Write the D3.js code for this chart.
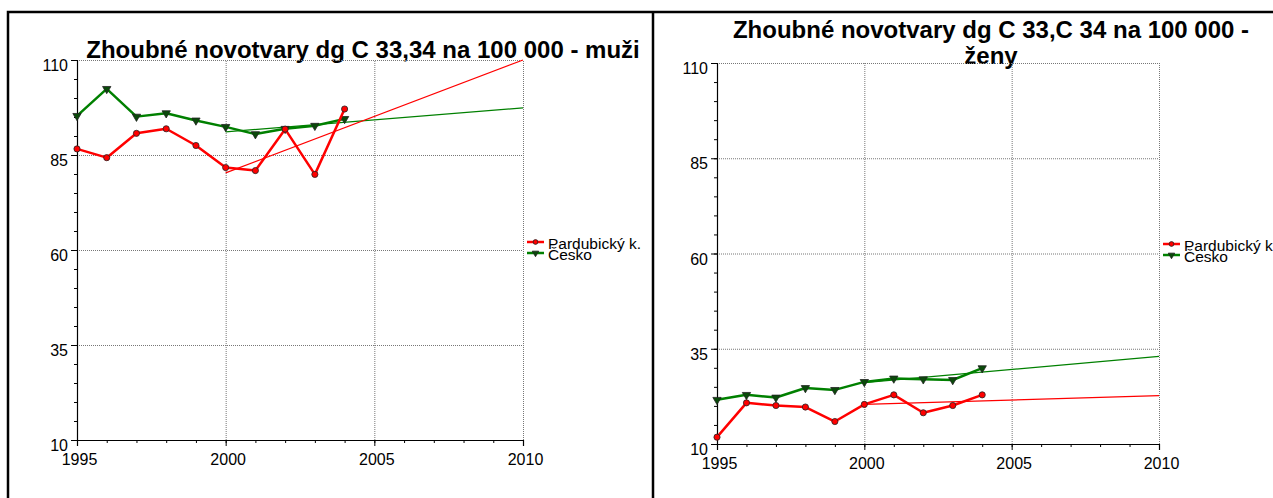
<!DOCTYPE html>
<html>
<head>
<meta charset="utf-8">
<script src="https://cdn.jsdelivr.net/npm/d3@7"></script>
<style>
	body { margin: 0; background: #fff; }
	svg { display: block; font-family: 'Liberation Sans', Arial, sans-serif; }
</style>
</head>
<body>
<div id="chart"></div>
<script>
// Data
const years = [1995, 1996, 1997, 1998, 1999, 2000, 2001, 2002, 2003, 2004];
const muziPardubice = [86.6, 84.3, 90.7, 91.9, 87.5, 81.7, 80.9, 91.8, 79.9, 97.1];
const muziCesko = [95.3, 102.4, 95.1, 96.0, 94.1, 92.4, 90.5, 91.9, 92.7, 94.5];
const zenyPardubice = [11.8, 20.8, 20.1, 19.7, 15.9, 20.4, 22.9, 18.2, 20.1, 22.9];
const zenyCesko = [21.6, 22.9, 22.2, 24.7, 24.2, 26.3, 27.2, 27.0, 26.8, 29.9];

// Trend lines (start / end)
const trendYears = [2000, 2010];
const muziPardubiceTrend = [80.3, 110];
const muziCeskoTrend = [91.1, 97.4];
const zenyPardubiceTrend = [20.4, 22.7];
const zenyCeskoTrend = [26.1, 33.0];

const seriesNames = ['Pardubický k.', 'Česko'];
const yMajorTicks = [10, 35, 60, 85, 110];
const xMajorTicks = [1995, 2000, 2005, 2010];

const width = 1273;
const height = 498;

const svg = d3.select('#chart')
	.append('svg')
	.attr('width', width)
	.attr('height', height)
	.attr('viewBox', [0, 0, width, height]);

// Outer frame
const frame = svg.append('g')
	.attr('fill', 'none')
	.attr('stroke', '#000')
	.attr('stroke-width', 2.5);
frame.append('path').attr('d', 'M8,' + height + 'V12H' + width);
frame.append('path').attr('d', 'M653,12V' + height);

const colors = { red: '#ff0000', green: '#008000' };

function drawPanel(opts) {
	const x = d3.scaleLinear().domain([1995, 2010]).range([opts.left, opts.right]);
	const y = d3.scaleLinear().domain([10, 110]).range([opts.bottom, opts.top]);

	const g = svg.append('g');

	// Title
	const title = g.append('text')
		.attr('text-anchor', 'middle')
		.style('font-weight', 'bold')
		.style('font-size', '24px');
	opts.title.forEach((line, i) => {
		title.append('tspan')
			.attr('x', opts.titleX)
			.attr('y', opts.titleY + i * 26)
			.text(line);
	});

	// Gridlines
	const grid = g.append('g');
	grid.append('g')
		.attr('transform', 'translate(' + opts.left + ',0)')
		.call(d3.axisLeft(y).tickValues(yMajorTicks.slice(1)).tickSize(-(opts.right - opts.left)).tickFormat(''))
		.call((s) => s.select('.domain').remove());
	grid.append('g')
		.attr('transform', 'translate(0,' + opts.bottom + ')')
		.call(d3.axisBottom(x).tickValues(xMajorTicks.slice(1)).tickSize(-(opts.bottom - opts.top)).tickFormat(''))
		.call((s) => s.select('.domain').remove());
	grid.selectAll('line')
		.attr('stroke', '#777')
		.attr('stroke-dasharray', '1,1');

	// Axes
	const yAxis = g.append('g')
		.attr('transform', 'translate(' + opts.left + ',0)');
	yAxis.append('g')
		.call(d3.axisLeft(y).tickValues(d3.range(10, 111, 5)).tickSize(3).tickFormat(''))
		.call((s) => s.select('.domain').remove());
	yAxis.append('g')
		.call(d3.axisLeft(y).tickValues(yMajorTicks).tickSize(6).tickPadding(3).tickFormat(d3.format('d')));
	yAxis.selectAll('text')
		.attr('dy', '0.35em')
		.attr('y', 5)
		.style('font-size', '16px')
		.style('font-family', "'Liberation Sans', Arial, sans-serif")
		.attr('fill', '#000');

	const xAxis = g.append('g')
		.attr('transform', 'translate(0,' + opts.bottom + ')');
	xAxis.append('g')
		.call(d3.axisBottom(x).tickValues(d3.range(1995, 2011)).tickSize(3).tickFormat(''))
		.call((s) => s.select('.domain').remove());
	xAxis.append('g')
		.call(d3.axisBottom(x).tickValues(xMajorTicks).tickSize(6).tickPadding(3).tickFormat(d3.format('d')));
	xAxis.selectAll('text')
		.attr('y', 25)
		.attr('dy', 0)
		.attr('dx', 2)
		.style('font-size', '16px')
		.style('font-family', "'Liberation Sans', Arial, sans-serif")
		.attr('fill', '#000');
	g.selectAll('.domain').attr('stroke', '#000').attr('stroke-width', 1.2);

	// Trend lines
	const trendLine = d3.line()
		.x((d) => x(d[0]))
		.y((d) => y(d[1]));
	[[opts.cesko.trend, colors.green], [opts.pardubice.trend, colors.red]].forEach(([vals, c]) => {
		g.append('path')
			.attr('d', trendLine(d3.zip(trendYears, vals)))
			.attr('fill', 'none')
			.attr('stroke', c)
			.attr('stroke-width', 1.2);
	});

	// Data lines
	const line = d3.line()
		.x((d) => x(d[0]))
		.y((d) => y(d[1]));
	const circle = d3.symbol().type(d3.symbolCircle).size(30);
	const tri = d3.symbol().type(d3.symbolTriangle).size(30);

	function series(vals, c, marker, rotate) {
		const data = d3.zip(years, vals);
		g.append('path')
			.attr('d', line(data))
			.attr('fill', 'none')
			.attr('stroke', c)
			.attr('stroke-width', 2.5)
			.attr('stroke-linejoin', 'round');
		g.append('g')
			.selectAll('path')
			.data(data)
			.enter()
			.append('path')
			.attr('d', marker)
			.attr('transform', (d) => 'translate(' + x(d[0]) + ',' + y(d[1]) + ')' + (rotate ? ' rotate(180)' : ''))
			.attr('fill', c === colors.red ? '#ff0000' : '#0a4a0a')
			.attr('stroke', '#222')
			.attr('stroke-width', 0.8);
	}
	series(opts.cesko.values, colors.green, tri, true);
	series(opts.pardubice.values, colors.red, circle, false);

	// Legend
	const legend = g.append('g')
		.attr('transform', 'translate(' + opts.legendX + ',' + opts.legendY + ')');
	const items = [
		{ name: seriesNames[0], color: colors.red, marker: circle, rotate: false },
		{ name: seriesNames[1], color: colors.green, marker: tri, rotate: true }
	];
	items.forEach((it, i) => {
		const row = legend.append('g').attr('transform', 'translate(0,' + i * 11 + ')');
		row.append('line')
			.attr('x1', 0).attr('x2', 17)
			.attr('stroke', it.color)
			.attr('stroke-width', 2.5);
		row.append('path')
			.attr('d', it.marker.size(18)())
			.attr('transform', 'translate(8.5,0)' + (it.rotate ? ' rotate(180)' : ''))
			.attr('fill', it.color === colors.red ? '#ff0000' : '#0a4a0a')
			.attr('stroke', '#222')
			.attr('stroke-width', 0.8);
		it.marker.size(30);
		row.append('text')
			.attr('x', 21)
			.attr('y', 7)
			.style('font-size', '15.5px')
			.text(it.name);
	});
}

drawPanel({
	left: 77, right: 523, top: 60, bottom: 440,
	title: ['Zhoubné novotvary dg C 33,34 na 100 000 - muži'],
	titleX: 363, titleY: 58,
	pardubice: { values: muziPardubice, trend: muziPardubiceTrend },
	cesko: { values: muziCesko, trend: muziCeskoTrend },
	legendX: 527, legendY: 242
});

drawPanel({
	left: 717, right: 1159, top: 63, bottom: 444,
	title: ['Zhoubné novotvary dg C 33,C 34 na 100 000 -', 'ženy'],
	titleX: 991, titleY: 38,
	pardubice: { values: zenyPardubice, trend: zenyPardubiceTrend },
	cesko: { values: zenyCesko, trend: zenyCeskoTrend },
	legendX: 1163, legendY: 244
});
</script>
</body>
</html>
